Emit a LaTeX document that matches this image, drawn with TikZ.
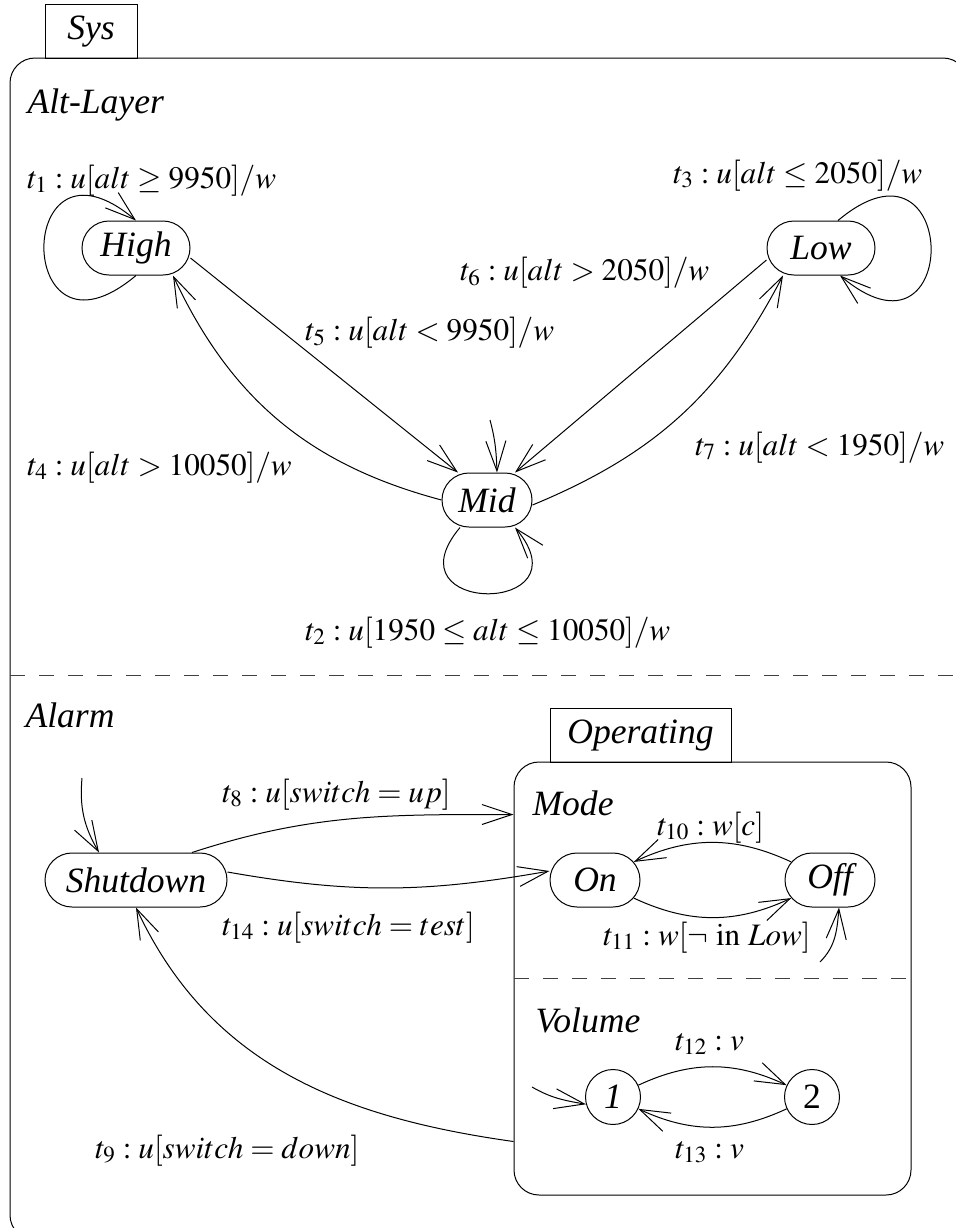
\documentclass[tikz,border=0pt]{standalone}
\usepackage{mathptmx}
\usepackage{fontspec}
\setmainfont{Liberation Serif}
\usetikzlibrary{arrows.meta,shapes.misc}

\begin{document}
\begin{tikzpicture}[x=0.5pt,y=0.5pt,line width=0.5pt,
  font=\fontsize{17.8}{21}\selectfont,
  state/.style={draw,rounded rectangle,minimum height=27pt,inner sep=0pt,font=\fontsize{17.8}{21}\selectfont\itshape},
  circ/.style={draw,circle,minimum size=27.5pt,inner sep=0pt},
  tab/.style={draw,minimum height=27pt,inner sep=0pt,font=\fontsize{17.8}{21}\selectfont\itshape},
  box/.style={draw,rounded corners=12.5pt,inner sep=0pt},
  region/.style={anchor=base west,inner sep=0pt,font=\fontsize{17.8}{21}\selectfont\itshape},
  tr/.style={-{Straight Barb[length=15pt,width=10pt]}},
  sep/.style={dash pattern=on 7.5pt off 7pt,draw=black!75},
  lbl/.style={anchor=base west,inner sep=0pt,font=\fontsize{15.6}{19}\selectfont}]
\clip (0,0) rectangle (956,-1228);
\node[box,minimum width=479pt,minimum height=591pt] (sys) at (489,-649) {};
\node[tab,minimum width=46pt] (systab) at (91,-31.5) {Sys};
\draw[sep] (10,-675) -- (968,-675);
\node[region] (altlayer) at (27,-113) {Alt-Layer};
\node[region] (alarm) at (25,-727) {Alarm};
\foreach \n/\x/\y/\w in {High/136/-248/54pt,Low/821/-248/54pt,Mid/487/-500/45pt,
    Shutdown/136/-880/91pt,On/595/-880/45pt,Off/830/-880/45pt}
  \node[state,minimum width=\w] (\n) at (\x,\y) {\n};
\node[tab,minimum width=90.5pt] (optab) at (640.5,-735) {Operating};
\node[box,minimum width=198.5pt,minimum height=216.5pt] (oper) at (712.5,-978.5) {};
\draw[sep] (oper.west) -- (oper.east);
\node[region] (mode) at (532,-815) {Mode};
\node[region] (volume) at (535,-1032) {Volume};
\node[circ] (one) at (613,-1097) {\itshape 1};
\node[circ] (two) at (812,-1097) {2};
\coordinate (iAlarm) at (82,-778);
\coordinate (iAlt) at (490,-420);
\coordinate (iMode) at (820,-962);
\coordinate (iVol) at (532,-1087);

\draw[tr] (High.south) .. controls +(-140:160) and +(140:160) .. (High.north);
\draw[tr] ([xshift=8.5pt]Low.north) .. controls +(40:160) and +(-40:160) .. ([xshift=9.5pt]Low.south);
\draw[tr] ([xshift=-13.5pt]Mid.south) .. controls +(-130:115) and +(-50:115) .. ([xshift=14pt]Mid.south);
\draw[tr] (Mid.west) to[bend left=25] ([xshift=18.5pt]High.south);
\draw[tr] ([yshift=-5pt]High.east) -- ([xshift=-14.5pt]Mid.north);
\draw[tr] ([yshift=-6pt]Low.west) -- ([xshift=14pt]Mid.north);
\draw[tr] ([yshift=-2.5pt]Mid.east) to[bend right=20] ([xshift=-19pt]Low.south);
\draw[tr] (iAlt) to[out=-75,in=92] ([xshift=5pt]Mid.north);

\draw[tr] (iAlarm) to[out=-95,in=120] ([xshift=-18.5pt]Shutdown.north);
\draw[tr] ([xshift=28pt]Shutdown.north) to[out=18,in=180] ([yshift=-26.5pt]oper.north west);
\draw[tr] ([yshift=4pt]Shutdown.east) to[out=-10,in=190] ([yshift=4.5pt]On.west);
\draw[tr] ([yshift=27pt]oper.south west) to[out=172,in=-65] (Shutdown.south);
\draw[tr] (Off) to[bend right=25] (On);
\draw[tr] (On) to[bend right=25] (Off);
\draw[tr] (iMode) to[out=45,in=-95] ([xshift=4.5pt]Off.south);
\draw[tr] (one) to[bend left=25] (two);
\draw[tr] (two) to[bend left=25] (one);
\draw[tr] (iVol) to[out=-30,in=170] (one.195);

\node[lbl] (l1) at (27,-188) {$t_1 : u[alt \geq 9950]/w$};
\node[lbl] (l3) at (673,-183) {$t_3 : u[alt \leq 2050]/w$};
\node[lbl] (l6) at (460,-280) {$t_6 : u[alt > 2050]/w$};
\node[lbl] (l5) at (305,-340) {$t_5 : u[alt < 9950]/w$};
\node[lbl] (l4) at (27,-475) {$t_4 : u[alt > 10050]/w$};
\node[lbl] (l7) at (695,-455) {$t_7 : u[alt < 1950]/w$};
\node[lbl] (l2) at (305,-640) {$t_2 : u[1950 \leq alt \leq 10050]/w$};
\node[lbl] (l8) at (222,-802) {$t_8 : u[switch = up]$};
\node[lbl] (l14) at (222,-935) {$t_{14} : u[switch = test]$};
\node[lbl] (l9) at (95,-1158) {$t_9 : u[switch = down]$};
\node[lbl] (l10) at (657,-835) {$t_{10} : w[c]$};
\node[lbl] (l11) at (603,-945) {$t_{11} : w[\neg\ \mathrm{in}\ Low]$};
\node[lbl] (l12) at (675,-1050) {$t_{12} : v$};
\node[lbl] (l13) at (675,-1158) {$t_{13} : v$};
\end{tikzpicture}
\end{document}
